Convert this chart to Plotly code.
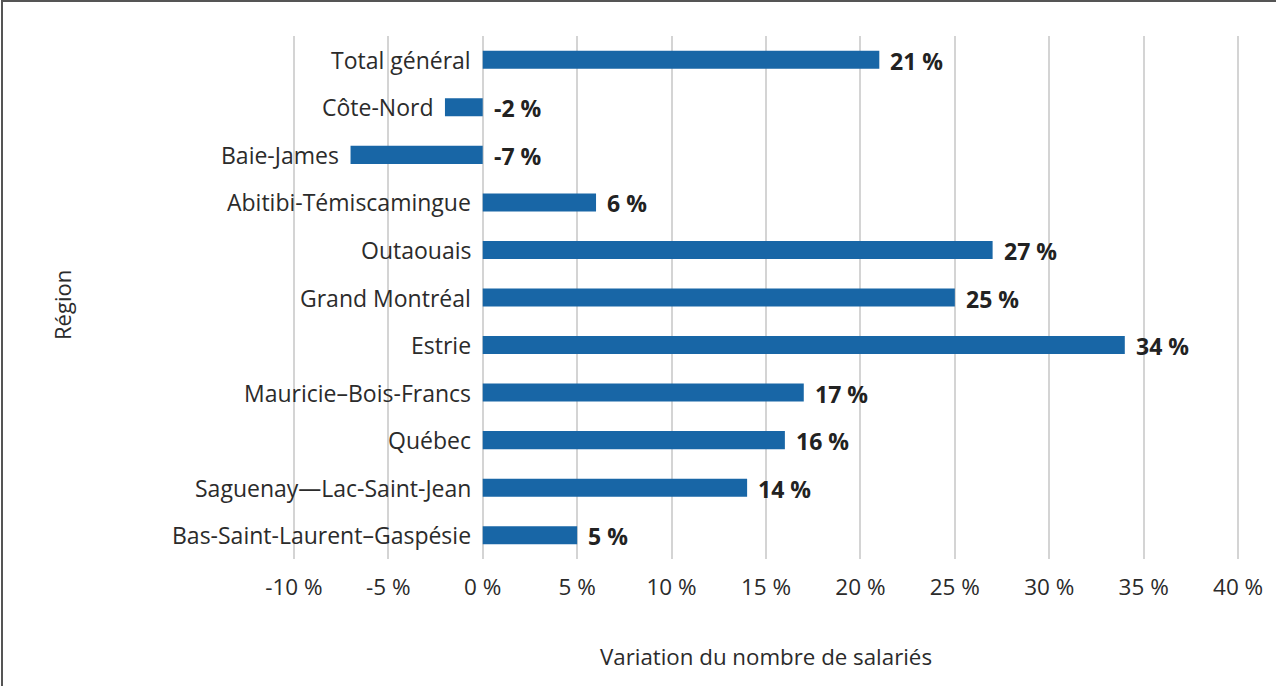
import plotly.graph_objects as go

regions = [
    "Bas-Saint-Laurent–Gaspésie",
    "Saguenay—Lac-Saint-Jean",
    "Québec",
    "Mauricie–Bois-Francs",
    "Estrie",
    "Grand Montréal",
    "Outaouais",
    "Abitibi-Témiscamingue",
    "Baie-James",
    "Côte-Nord",
    "Total général",
]
values = [5, 14, 16, 17, 34, 25, 27, 6, -7, -2, 21]
tick_vals = [-10, -5, 0, 5, 10, 15, 20, 25, 30, 35, 40]
tick_text = [f"{v} %" for v in tick_vals]

X_MIN, X_MAX = -10.1, 40.1
FONT = "'Open Sans', Lato, sans-serif"
TXT = "#2b2b2b"

ML, MR, MT, MB = 292, 36, 36, 127
PW = 1276 - ML - MR
PH = 686 - MT - MB

fig = go.Figure()
fig.add_trace(go.Bar(
    x=values, y=regions, orientation="h",
    marker=dict(color="#1866a6", line=dict(width=0)),
    width=0.38,
    hoverinfo="skip",
))

# Value labels (right of the bar end or of the zero line)
for r, v in zip(regions, values):
    fig.add_annotation(
        x=max(v, 0), y=r, text=f"<b>{v} %</b>", showarrow=False,
        xanchor="left", xshift=9, yshift=-1,
        font=dict(family=FONT, size=23, color="#222222"),
    )

# Category labels (left of the zero line or of the negative bar end)
for r, v in zip(regions, values):
    fig.add_annotation(
        x=min(v, 0), y=r, text=r, showarrow=False,
        xanchor="right", xshift=-10, yshift=0,
        font=dict(family=FONT, size=23, color=TXT),
    )

fig.add_annotation(
    xref="paper", yref="paper", x=(62 - ML) / PW, y=(MT + PH - 305) / PH,
    text="Région", textangle=-90, showarrow=False,
    xanchor="center", yanchor="middle",
    font=dict(family=FONT, size=22, color=TXT),
)

fig.update_layout(
    width=1276, height=686,
    margin=dict(l=ML, r=MR, t=MT, b=MB),
    paper_bgcolor="white", plot_bgcolor="white",
    showlegend=False,
    font=dict(family=FONT, size=22, color=TXT),
    xaxis=dict(
        range=[X_MIN, X_MAX], tickvals=tick_vals, ticktext=tick_text,
        showgrid=True, gridcolor="#d4d4d4", gridwidth=2,
        zeroline=True, zerolinecolor="#d4d4d4", zerolinewidth=2,
        showline=False, ticks="", ticklen=0,
        ticklabelstandoff=12,
        tickfont=dict(size=22.5, color=TXT),
        title=dict(text="Variation du nombre de salariés", standoff=48,
                   font=dict(size=22.3, color=TXT)),
        fixedrange=True, automargin=False,
    ),
    yaxis=dict(
        categoryorder="array", categoryarray=regions,
        range=[-0.5, len(regions) - 0.5],
        showgrid=False, showline=False, ticks="", showticklabels=False,
        fixedrange=True, automargin=False,
    ),
    shapes=[dict(
        type="rect", xref="paper", yref="paper",
        x0=(2 - ML) / PW, x1=1.2, y0=-0.5, y1=(MT + PH - 1) / PH,
        line=dict(color="#555555", width=2), fillcolor="rgba(0,0,0,0)",
        layer="above",
    )],
)

fig.write_html(
    "out.html",
    config={"displayModeBar": False},
    post_script="document.body.style.margin='0';document.body.style.overflow='hidden';",
)
